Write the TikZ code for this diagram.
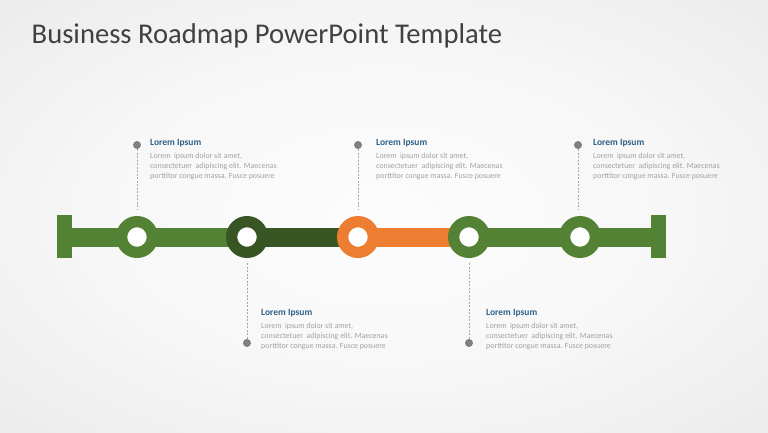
\documentclass[tikz,border=0pt]{standalone}
\usepackage{fontspec}
\setmainfont{Carlito}
\definecolor{titlegray}{HTML}{404040}
\definecolor{lgreen}{HTML}{548235}
\definecolor{dgreen}{HTML}{375623}
\definecolor{orng}{HTML}{ED7D31}
\definecolor{hdblue}{HTML}{2E6189}
\definecolor{bodygray}{HTML}{A0A0A0}
\definecolor{dotgray}{HTML}{7F7F7F}
\definecolor{dashgray}{HTML}{A6A6A6}
\pgfdeclareradialshading{bgshade}{\pgfpoint{0bp}{0bp}}{color(0bp)=(white!99!black); color(18bp)=(white!97!black); color(60bp)=(white!86!black); color(72bp)=(white!85!black)}
\tikzset{
  ring/.style={circle, draw=#1, line width=11.3pt, fill=white, minimum size=30.7pt, inner sep=0pt},
  endcap/.style={rectangle, fill=lgreen, minimum width=15pt, minimum height=43pt, inner sep=0pt},
  pin/.style={circle, fill=dotgray, minimum size=8pt, inner sep=0pt},
  leader/.style={draw=dashgray, line width=0.8pt, dash pattern=on 2pt off 1.5pt},
  head/.style={anchor=base west, inner sep=0pt, font=\fontsize{9.5}{10}\selectfont\bfseries, text=hdblue},
  body/.style={anchor=base west, inner sep=0pt, font=\fontsize{7.9}{10}\selectfont, text=bodygray, align=left},
}
\begin{document}
\begin{tikzpicture}[x=1pt,y=-1pt]
\useasboundingbox (0,0) rectangle (768,432);
\shade[shading=bgshade] (0,0) rectangle (768,432);
\node[anchor=base west, inner sep=0pt, font=\fontsize{28.6}{32}\selectfont, text=titlegray] (title) at (31.5,43) {Business Roadmap PowerPoint Template};

% bars
\fill[lgreen] (64,228) rectangle (247,247);
\fill[dgreen] (247,228) rectangle (358,247);
\fill[orng] (358,228) rectangle (469,247);
\fill[lgreen] (469,228) rectangle (658,247);

\node[endcap] (capl) at (64.5,236.5) {};
\node[endcap] (capr) at (658,236.5) {};

\node[ring=lgreen] (c1) at (137,237) {};
\node[ring=dgreen] (c2) at (247,237) {};
\node[ring=orng] (c3) at (358,237) {};
\node[ring=lgreen] (c4) at (469,237) {};
\node[ring=lgreen] (c5) at (580,237) {};

% pins
\node[pin] (p1) at (137,145) {};
\node[pin] (p3) at (358,145) {};
\node[pin] (p5) at (578,145) {};
\node[pin] (p2) at (247,343) {};
\node[pin] (p4) at (469,343) {};

\coordinate (e1) at (137,210);
\coordinate (e3) at (358,210);
\coordinate (e5) at (578,210);
\coordinate (e2) at (247,263);
\coordinate (e4) at (469,263);
\draw[leader] (p1) -- (e1);
\draw[leader] (p3) -- (e3);
\draw[leader] (p5) -- (e5);
\draw[leader] (e2) -- (p2);
\draw[leader] (e4) -- (p4);

% texts
\node[head] (h1) at (150,145.5) {Lorem Ipsum};
\node[body] (b1) at (150,178) {Lorem \ ipsum dolor sit amet,\\consectetuer \ adipiscing elit. Maecenas\\porttitor congue massa. Fusce posuere};
\node[head] (h3) at (376,145.5) {Lorem Ipsum};
\node[body] (b3) at (376,178) {Lorem \ ipsum dolor sit amet,\\consectetuer \ adipiscing elit. Maecenas\\porttitor congue massa. Fusce posuere};
\node[head] (h5) at (593,145.5) {Lorem Ipsum};
\node[body] (b5) at (593,178) {Lorem \ ipsum dolor sit amet,\\consectetuer \ adipiscing elit. Maecenas\\porttitor congue massa. Fusce posuere};
\node[head] (h2) at (261,315.5) {Lorem Ipsum};
\node[body] (b2) at (261,348) {Lorem \ ipsum dolor sit amet,\\consectetuer \ adipiscing elit. Maecenas\\porttitor congue massa. Fusce posuere};
\node[head] (h4) at (486,315.5) {Lorem Ipsum};
\node[body] (b4) at (486,348) {Lorem \ ipsum dolor sit amet,\\consectetuer \ adipiscing elit. Maecenas\\porttitor congue massa. Fusce posuere};
\end{tikzpicture}
\end{document}
